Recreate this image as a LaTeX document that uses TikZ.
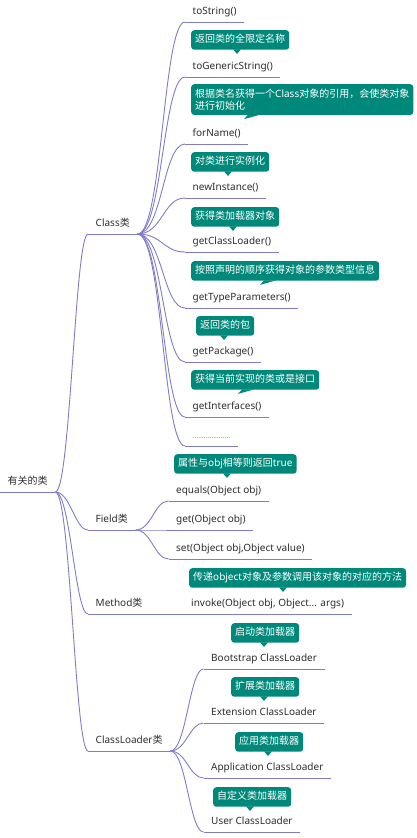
\documentclass[tikz,border=0pt]{standalone}
\usepackage{fontspec}
\setmainfont{Noto Sans}
\newfontfamily\cjkfont{Noto Sans CJK SC}
\usetikzlibrary{calc}
\definecolor{lineC}{RGB}{128,124,200}
\definecolor{tealC}{RGB}{0,137,122}
\definecolor{txtC}{RGB}{45,45,45}
\definecolor{dotC}{RGB}{140,90,170}
\newcommand\zh[1]{{\cjkfont #1}}
\newcommand\tailS[2]{\fill[tealC] ($(#1.south west)+({#2-4},-0.5)$) -- ++(4,4.5) -- ++(4,-4.5) -- cycle;}
\newcommand\tailL[2]{\fill[tealC] ($(#1.south west)+(#2,4)$) -- ($(#1.south west)+({#2+4},-0.5)$) -- ($(#1.south west)+({#2+16},-0.5)$) -- cycle;}
\begin{document}
\begin{tikzpicture}[x=1pt,y=-1pt,
 topic/.style={anchor=south west,inner xsep=7.5pt,inner ysep=5pt,text height=8pt,text depth=2.5pt,font=\fontsize{10}{12}\selectfont,text=txtC},
 callout/.style={anchor=north west,fill=tealC,rounded corners=3pt,text=white,inner xsep=4pt,inner ysep=4.5pt,font=\fontsize{10}{12.5}\selectfont},
 one/.style={text height=8pt,text depth=2.5pt},
 link/.style={draw=lineC,line width=0.9pt},
 rootc/.style={out=0,in=180,out distance=15pt,in distance=13pt},
 classc/.style={out=0,in=180,out distance=25pt,in distance=22pt},
 leafc/.style={out=0,in=180,out distance=16pt,in distance=14pt},
]
\useasboundingbox (0,0) rectangle (417,838);

% topics
\node[topic] (root) at (0,492) {\zh{有关的类}};
\node[topic] (cls) at (88,234) {Class\zh{类}};
\node[topic] (fld) at (88,530) {Field\zh{类}};
\node[topic] (mth) at (88,614) {Method\zh{类}};
\node[topic] (cl) at (88,751) {ClassLoader\zh{类}};

\node[topic] (tostr) at (185,22) {toString()};
\node[topic] (togen) at (185,77) {toGenericString()};
\node[topic] (forn) at (185,144) {forName()};
\node[topic] (newi) at (185,198) {newInstance()};
\node[topic] (getcl) at (185,252) {getClassLoader()};
\node[topic] (gettp) at (185,308) {getTypeParameters()};
\node[topic] (getpk) at (185,362) {getPackage()};
\node[topic] (getif) at (185,417) {getInterfaces()};
\node[topic] (dots) at (185,446) {\textcolor{dotC}{\fontsize{7}{8}\selectfont ....................}};

\node[topic] (eq) at (168.5,501) {equals(Object obj)};
\node[topic] (get) at (168.5,530) {get(Object obj)};
\node[topic] (set) at (168.5,559) {set(Object obj,Object value)};

\node[topic] (inv) at (183.5,614) {invoke(Object obj, Object... args)};

\node[topic] (boot) at (203.5,669) {Bootstrap ClassLoader};
\node[topic] (ext) at (203.5,723) {Extension ClassLoader};
\node[topic] (app) at (203.5,778) {Application ClassLoader};
\node[topic] (usr) at (203.5,832) {User ClassLoader};

% underlines
\foreach \n in {root,cls,fld,mth,cl,tostr,togen,forn,newi,getcl,gettp,getpk,getif,dots,eq,get,set,inv,boot,ext,app,usr}
  \draw[link] (\n.south west) -- (\n.south east);

% connectors
\foreach \n in {cls,fld,mth,cl}
  \draw[link] (root.south east) to[rootc] (\n.south west);
\foreach \n in {tostr,togen,forn,newi,getcl,gettp,getpk,getif,dots}
  \draw[link] (cls.south east) to[classc] (\n.south west);
\foreach \n in {eq,get,set}
  \draw[link] (fld.south east) to[leafc] (\n.south west);
\draw[link] (mth.south east) -- (inv.south west);
\foreach \n in {boot,ext,app,usr}
  \draw[link] (cl.south east) to[leafc] (\n.south west);

% callouts
\node[callout,one] (c1) at (191,30) {\zh{返回类的全限定名称}};
\node[callout,align=left] (c2) at (191,84) {\zh{根据类名获得一个}Class\zh{对象的引用，会使类对象}\\\zh{进行初始化}};
\node[callout,one] (c3) at (191,152) {\zh{对类进行实例化}};
\node[callout,one] (c4) at (191,207) {\zh{获得类加载器对象}};
\node[callout,one] (c5) at (191,261) {\zh{按照声明的顺序获得对象的参数类型信息}};
\node[callout,one] (c6) at (196,316) {\zh{返回类的包}};
\node[callout,one] (c7) at (191,370) {\zh{获得当前实现的类或是接口}};
\node[callout,one] (c8) at (174,454) {\zh{属性与}obj\zh{相等则返回}true};
\node[callout,one] (c9) at (189,568) {\zh{传递}object\zh{对象及参数调用该对象的对应的方法}};
\node[callout,one] (c10) at (231,623) {\zh{启动类加载器}};
\node[callout,one] (c11) at (231,677) {\zh{扩展类加载器}};
\node[callout,one] (c12) at (235,732) {\zh{应用类加载器}};
\node[callout,one] (c13) at (213,787) {\zh{自定义类加载器}};

\tailS{c1}{46}
\tailL{c2}{53}
\tailS{c3}{37}
\tailS{c4}{42}
\tailL{c5}{69}
\tailS{c6}{28}
\tailL{c7}{47}
\tailS{c8}{53}
\tailS{c9}{94}
\tailS{c10}{33}
\tailS{c11}{33}
\tailS{c12}{33}
\tailS{c13}{37}
\end{tikzpicture}
\end{document}
